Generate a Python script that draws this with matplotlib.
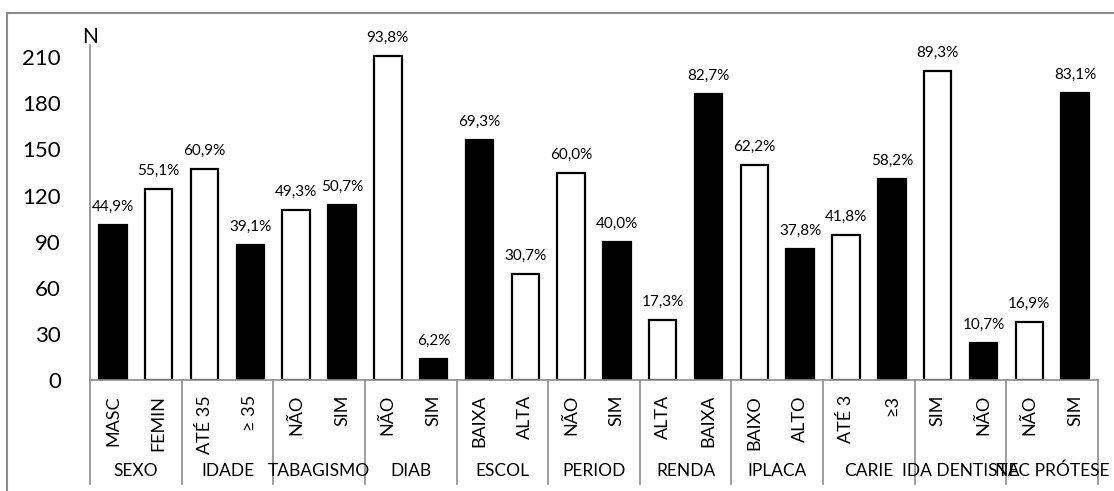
import matplotlib.pyplot as plt
from matplotlib.lines import Line2D
from matplotlib.patches import Rectangle
import numpy as np

plt.rcParams['font.family'] = ['Lato', 'DejaVu Sans']

groups = ['SEXO', 'IDADE', 'TABAGISMO', 'DIAB', 'ESCOL', 'PERIOD', 'RENDA',
          'IPLACA', 'CARIE', 'IDA DENTISTA', 'NEC PRÓTESE']
levels = ['MASC', 'FEMIN', 'ATÉ 35', '≥ 35', 'NÃO', 'SIM', 'NÃO', 'SIM',
          'BAIXA', 'ALTA', 'NÃO', 'SIM', 'ALTA', 'BAIXA', 'BAIXO', 'ALTO',
          'ATÉ 3', '≥3', 'SIM', 'NÃO', 'NÃO', 'SIM']
pct = [44.9, 55.1, 60.9, 39.1, 49.3, 50.7, 93.8, 6.2, 69.3, 30.7, 60.0, 40.0,
       17.3, 82.7, 62.2, 37.8, 41.8, 58.2, 89.3, 10.7, 16.9, 83.1]
total_n = 225

counts = np.array(pct) / 100 * total_n

# black / white fill per bar
bar_colors = ['black', 'white', 'white', 'black', 'white', 'black', 'white', 'black',
              'black', 'white', 'white', 'black', 'white', 'black', 'white', 'black',
              'white', 'black', 'white', 'black', 'white', 'black']

W, H = 1114, 491
fig = plt.figure(figsize=(W / 100, H / 100), dpi=100)
ax = fig.add_axes([90 / W, 1 - 380 / H, (1098 - 90) / W, (380 - 45) / H])

x = np.arange(len(levels))
ax.bar(x, counts, width=0.6, color=bar_colors, edgecolor='black', linewidth=1.6)

for xi, c, p in zip(x, counts, pct):
    ax.annotate(f'{p:.1f}%'.replace('.', ','), (xi, c), xytext=(0, 8),
                textcoords='offset points', ha='center', va='bottom', fontsize=11)

ax.set_xlim(-0.5, len(levels) - 0.5)
ax.set_ylim(0, 218)
ax.set_yticks(np.arange(0, 211, 30))
ax.tick_params(axis='y', length=0, pad=21, labelsize=16)
ax.set_xticks([])
for s in ['top', 'right']:
    ax.spines[s].set_visible(False)
for s in ['left', 'bottom']:
    ax.spines[s].set_color('#8c8c8c')
    ax.spines[s].set_linewidth(1.2)

ax.text(0.0, 0.995, 'N', transform=ax.transAxes, ha='center', va='bottom', fontsize=15)

# two-level category axis
trans = ax.get_xaxis_transform()
for xi, lab in zip(x, levels):
    ax.text(xi, -0.045, lab, transform=trans, rotation=90, ha='center', va='top',
            fontsize=13)
for k, g in enumerate(groups):
    ax.text(2 * k + 0.5, -0.272, g, transform=trans, ha='center', va='center',
            fontsize=12.5)
for k in range(len(groups) + 1):
    ax.add_line(Line2D([2 * k - 0.5] * 2, [0, -0.31], transform=trans,
                       color='#8c8c8c', lw=1.2, clip_on=False))

# outer chart border
fig.patches.append(Rectangle((6.5 / W, -0.1), 1.2, 1 - 12.5 / H + 0.1,
                             transform=fig.transFigure, fill=False,
                             edgecolor='#8c8c8c', lw=1.5))

fig.savefig('out.png', dpi=100, facecolor='white')
